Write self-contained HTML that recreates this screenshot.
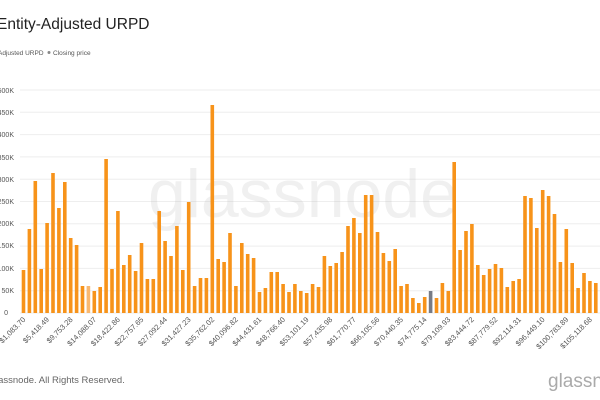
<!DOCTYPE html>
<html><head><meta charset="utf-8"><style>
html,body{margin:0;padding:0;background:#fff;width:600px;height:400px;overflow:hidden}
svg{display:block;font-family:"Liberation Sans",sans-serif}
</style></head><body>
<svg id="s" width="600" height="400" viewBox="0 0 600 400">
<text x="-3" y="29" font-size="15.5" fill="#222">Entity-Adjusted URPD</text>
<text x="-2" y="55" font-size="6.5" fill="#555">Adjusted URPD</text>
<circle cx="49" cy="52.5" r="1.5" fill="#888"/>
<text x="53" y="55" font-size="6.5" fill="#555">Closing price</text>
<g font-size="7" fill="#555" text-anchor="end">
<text x="14" y="93">500K</text><text x="14" y="115">450K</text><text x="14" y="137">400K</text><text x="14" y="160">350K</text><text x="14" y="182">300K</text><text x="14" y="204">250K</text><text x="14" y="226">200K</text><text x="14" y="248">150K</text><text x="14" y="271">100K</text><text x="14" y="293">50K</text><text x="8" y="315">0</text>
</g>
<g id="grid" stroke="#eee" stroke-width="1"></g>
<text x="303" y="217" font-size="68" fill="#bbb" fill-opacity="0.22" text-anchor="middle">glassnode</text>
<g id="bars"></g>
<g font-size="7.5" fill="#555" text-anchor="end" id="lab">
<text transform="translate(26,320) rotate(-45)">$1,083.70</text>
<text transform="translate(49.6,320) rotate(-45)">$5,418.49</text>
<text transform="translate(73.2,320) rotate(-45)">$9,753.28</text>
<text transform="translate(96.8,320) rotate(-45)">$14,088.07</text>
<text transform="translate(120.4,320) rotate(-45)">$18,422.86</text>
<text transform="translate(144,320) rotate(-45)">$22,757.65</text>
<text transform="translate(167.6,320) rotate(-45)">$27,092.44</text>
<text transform="translate(191.2,320) rotate(-45)">$31,427.23</text>
<text transform="translate(214.8,320) rotate(-45)">$35,762.02</text>
<text transform="translate(238.4,320) rotate(-45)">$40,096.82</text>
<text transform="translate(262,320) rotate(-45)">$44,431.61</text>
<text transform="translate(285.6,320) rotate(-45)">$48,766.40</text>
<text transform="translate(309.2,320) rotate(-45)">$53,101.19</text>
<text transform="translate(332.8,320) rotate(-45)">$57,435.98</text>
<text transform="translate(356.4,320) rotate(-45)">$61,770.77</text>
<text transform="translate(380,320) rotate(-45)">$66,105.56</text>
<text transform="translate(403.6,320) rotate(-45)">$70,440.35</text>
<text transform="translate(427.2,320) rotate(-45)">$74,775.14</text>
<text transform="translate(450.8,320) rotate(-45)">$79,109.93</text>
<text transform="translate(474.4,320) rotate(-45)">$83,444.72</text>
<text transform="translate(498,320) rotate(-45)">$87,779.52</text>
<text transform="translate(521.6,320) rotate(-45)">$92,114.31</text>
<text transform="translate(545.2,320) rotate(-45)">$96,449.10</text>
<text transform="translate(568.8,320) rotate(-45)">$100,783.89</text>
<text transform="translate(592.4,320) rotate(-45)">$105,118.68</text>
</g>
<text x="-4" y="383" font-size="9.5" fill="#666">lassnode. All Rights Reserved.</text>
<text x="548" y="387" font-size="19" fill="#aaa">glassn</text>
</svg>
<script>
var ns="http://www.w3.org/2000/svg";
var g=document.getElementById("grid");
for(var k=0;k<=10;k++){var y=90+k*22.3;var l=document.createElementNS(ns,"line");l.setAttribute("x1",20);l.setAttribute("x2",600);l.setAttribute("y1",y);l.setAttribute("y2",y);g.appendChild(l);}
var h=[43,84,132,44,90,140,105,131,75,68,27,27,22,26,154,44,102,48,58,42,70,34,34,102,72,57,87,43,111,27,35,35,208,54,51,80,27,70,59,55,21,25,41,41,29,21,29,
22,20,29,26,57,47,50,61,87,95,80,118,118,81,60,52,64,27,29,15,10,16,22,15,30,22,151,63,82,89,48,38,44,49,45,26,32,34,117,115,85,123,117,99,51,84,50,25,40,32,30];
var b=document.getElementById("bars");
for(var i=0;i<h.length;i++){var r=document.createElementNS(ns,"rect");var x=23.5+i*5.9;r.setAttribute("x",x-1.8);r.setAttribute("width",3.6);r.setAttribute("y",313-h[i]);r.setAttribute("height",h[i]);r.setAttribute("fill",i==69?"#777b85":(i==11?"#f9b870":"#f7931a"));b.appendChild(r);}
</script>
</body></html>
